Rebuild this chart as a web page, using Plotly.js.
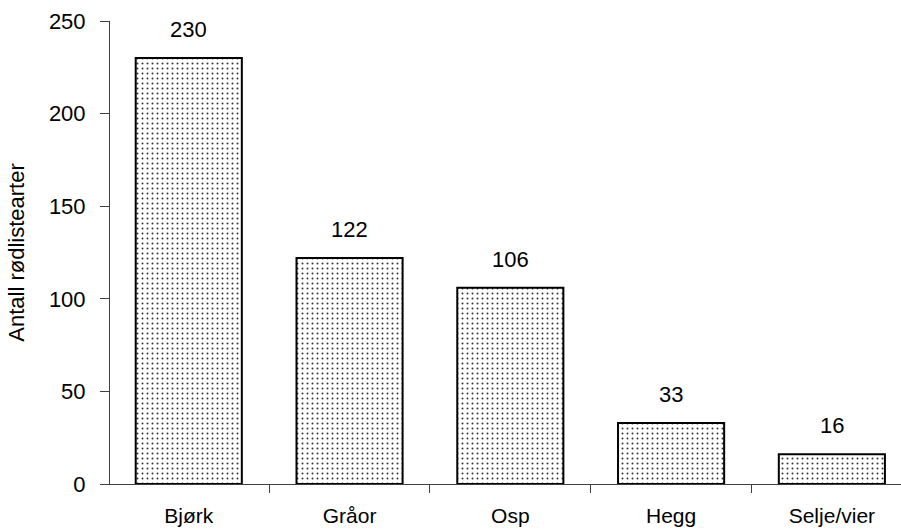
<!DOCTYPE html>
<html>
<head>
<meta charset="utf-8">
<script src="https://cdn.plot.ly/plotly-3.0.1.min.js"></script>
<style>html,body{margin:0;padding:0;background:#fff;}#chart{width:901px;height:531px;}</style>
</head>
<body>
<div id="chart"></div>
<script>
const categories = ["Bjørk", "Gråor", "Osp", "Hegg", "Selje/vier"];
const values = [230, 122, 106, 33, 16];
const yTicks = [0, 50, 100, 150, 200, 250];
const yTitle = "Antall rødlistearter";

const font = "Liberation Sans, Arial, sans-serif";

const trace = {
  type: "bar",
  x: categories,
  y: values,
  width: 0.66,
  marker: {
    color: "#ffffff",
    line: { color: "#000000", width: 2 },
    pattern: { shape: ".", fgcolor: "#333333", bgcolor: "#ffffff", size: 5, solidity: 0.12 }
  },
  hoverinfo: "none"
};

const annotations = categories.map((c, i) => ({
  x: c, y: values[i], xref: "x", yref: "y",
  text: String(values[i]), showarrow: false,
  yanchor: "bottom", yshift: 14,
  font: { family: font, size: 22, color: "#000" }
}));

const layout = {
  width: 901, height: 531,
  margin: { l: 110, r: 0, t: 21, b: 47, pad: 0 },
  paper_bgcolor: "#fff", plot_bgcolor: "#fff",
  showlegend: false,
  font: { family: font, size: 22, color: "#000" },
  xaxis: {
    type: "category",
    range: [-0.49, 4.43],
    showline: true, linecolor: "#404040", linewidth: 1,
    ticks: "outside", tickson: "boundaries", ticklen: 8, tickcolor: "#404040",
    ticklabelstandoff: 13,
    showgrid: false, zeroline: false,
    tickfont: { family: font, size: 21, color: "#000" }
  },
  yaxis: {
    range: [0, 250],
    tickvals: yTicks,
    ticktext: yTicks.map(String),
    showline: true, linecolor: "#404040", linewidth: 1,
    ticks: "outside", ticklen: 9, tickcolor: "#404040",
    ticklabelstandoff: 10,
    showgrid: false, zeroline: false,
    tickfont: { family: font, size: 22, color: "#000" },
    title: { text: yTitle, font: { family: font, size: 22, color: "#000" }, standoff: 18 }
  },
  annotations: annotations
};

Plotly.newPlot("chart", [trace], layout, { displayModeBar: false, staticPlot: true });
</script>
</body>
</html>
